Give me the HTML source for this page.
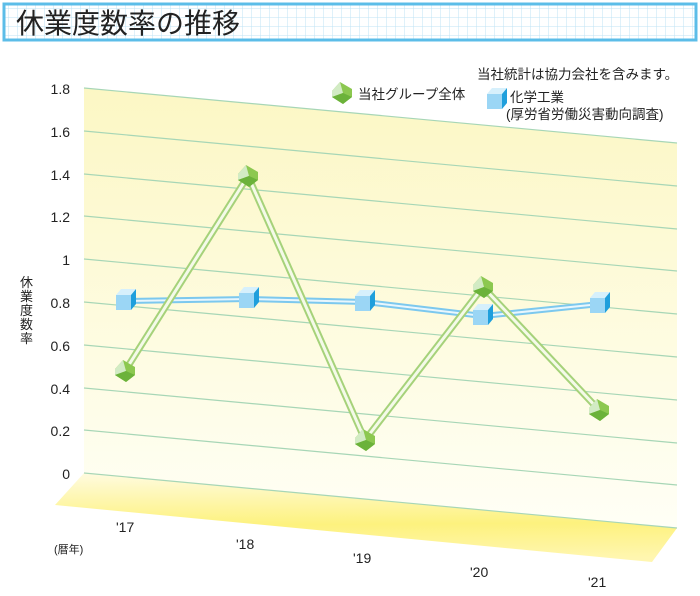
<!DOCTYPE html>
<html><head><meta charset="utf-8"><style>
html,body{margin:0;padding:0;background:#fff;}
body{width:700px;height:591px;overflow:hidden;font-family:"Liberation Sans","Noto Sans CJK JP",sans-serif;}
</style></head><body>
<svg width="700" height="591" viewBox="0 0 700 591" xmlns="http://www.w3.org/2000/svg" font-family="Liberation Sans, Noto Sans CJK JP, sans-serif">
<defs>
<pattern id="grid" width="9" height="9" patternUnits="userSpaceOnUse">
<path d="M9 0V9M0 9H9" stroke="#bfe3f4" stroke-width="1" fill="none"/>
</pattern>
<linearGradient id="wall" x1="0" y1="0" x2="0" y2="1">
<stop offset="0" stop-color="#fcf7c4"/><stop offset="1" stop-color="#fffff6"/>
</linearGradient>
<linearGradient id="floor" x1="0" y1="0" x2="0.05" y2="1">
<stop offset="0" stop-color="#fffbe0"/><stop offset="0.6" stop-color="#fdf27e"/><stop offset="1" stop-color="#fff6b0"/>
</linearGradient>
<g id="cube"><polygon points="-10,-6 -5,-12 10,-12 5,-6" fill="#d6f0fc"/><polygon points="-10,-6 5,-6 5,9 -10,9" fill="#9bd6f5"/><polygon points="5,-6 10,-12 10,3 5,9" fill="#1f9fdc"/></g>
<g id="gem"><polygon points="-10,-2 -2,-11 10,-4 10,4 1,11 -10,4" fill="#8cc850"/><polygon points="-10,-2 -2,-11 1,0 -10,4" fill="#d2ebc4"/><polygon points="1,0 10,4 1,11 -10,4" fill="#6bb23a"/></g>
</defs>
<rect x="4" y="4" width="692" height="36" fill="#fff"/>
<rect x="4" y="4" width="692" height="36" fill="url(#grid)"/>
<rect x="4" y="4" width="692" height="36" fill="none" stroke="#5cbde8" stroke-width="3"/>
<text x="16" y="33" font-size="28" fill="#222">休業度数率の推移</text>

<polygon points="84,88 677,143 677,528 84,473" fill="url(#wall)"/>
<polygon points="84,473 677,528 652,562 55,505" fill="url(#floor)"/>
<g stroke="#a7d6b6" stroke-width="1.2">
<line x1="84" y1="88" x2="677" y2="143"/>
<line x1="84" y1="131" x2="677" y2="186"/>
<line x1="84" y1="174" x2="677" y2="229"/>
<line x1="84" y1="216" x2="677" y2="271"/>
<line x1="84" y1="259" x2="677" y2="314"/>
<line x1="84" y1="302" x2="677" y2="357"/>
<line x1="84" y1="345" x2="677" y2="400"/>
<line x1="84" y1="388" x2="677" y2="443"/>
<line x1="84" y1="430" x2="677" y2="485"/>
<line x1="84" y1="473" x2="677" y2="528"/>
</g>
<g font-size="14" fill="#222" text-anchor="end">
<text x="70" y="94">1.8</text><text x="70" y="137">1.6</text><text x="70" y="180">1.4</text>
<text x="70" y="222">1.2</text><text x="70" y="265">1</text><text x="70" y="308">0.8</text>
<text x="70" y="351">0.6</text><text x="70" y="394">0.4</text><text x="70" y="436">0.2</text>
<text x="70" y="479">0</text>
</g>
<g font-size="13" fill="#222">
<text x="20" y="287">休</text><text x="20" y="301">業</text><text x="20" y="315">度</text><text x="20" y="329">数</text><text x="20" y="343">率</text>
</g>
<g font-size="14" fill="#222">
<text x="116" y="532">'17</text><text x="236" y="549">'18</text><text x="353" y="563">'19</text><text x="470" y="577">'20</text><text x="588" y="587">'21</text>
</g>
<text x="54" y="553" font-size="11" fill="#222">(暦年)</text>

<polyline points="126,301 249,299 365,302 483,316 600,304" fill="none" stroke="#7cc8ee" stroke-width="6"/>
<polyline points="126,301 249,299 365,302 483,316 600,304" fill="none" stroke="#e8f6fd" stroke-width="2"/>
<polyline points="125,371 248,176 365,440 483,287 599,410" fill="none" stroke="#a6d27a" stroke-width="7"/>
<polyline points="125,371 248,176 365,440 483,287 599,410" fill="none" stroke="#f4fae8" stroke-width="3"/>

<use href="#cube" x="126" y="301"/><use href="#cube" x="249" y="299"/><use href="#cube" x="365" y="302"/>
<use href="#cube" x="483" y="316"/><use href="#cube" x="600" y="304"/><use href="#cube" x="497" y="100"/>
<use href="#gem" x="125" y="371"/><use href="#gem" x="248" y="176"/><use href="#gem" x="365" y="440"/>
<use href="#gem" x="483" y="287"/><use href="#gem" x="599" y="410"/><use href="#gem" x="342" y="93"/>
<g font-size="13.5" fill="#222">
<text x="477" y="79">当社統計は協力会社を含みます。</text>
<text x="358" y="99">当社グループ全体</text>
<text x="510" y="102">化学工業</text>
<text x="506" y="119">(厚労省労働災害動向調査)</text>
</g>
</svg>
</body></html>
